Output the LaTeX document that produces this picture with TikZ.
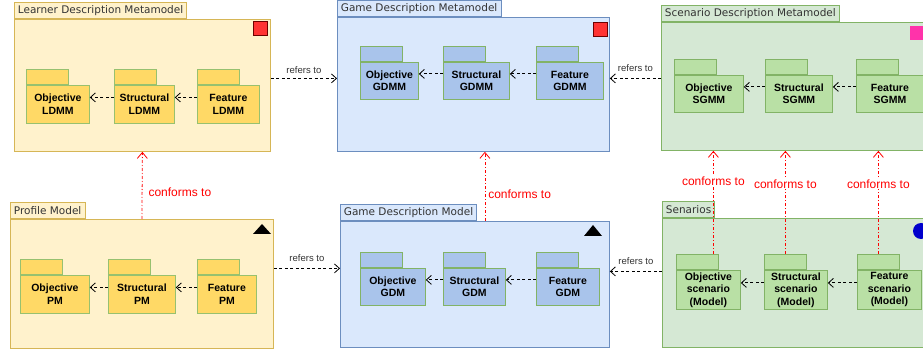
\documentclass[tikz,border=0pt]{standalone}
\usepackage{fontspec}
\setmainfont{Liberation Sans}
\newfontfamily\titlefont{DejaVu Sans}
\usetikzlibrary{arrows.meta}
\definecolor{ylouter}{HTML}{FFF2CC}
\definecolor{ylline}{HTML}{D6B656}
\definecolor{ylinner}{HTML}{FFD966}
\definecolor{blouter}{HTML}{DAE8FC}
\definecolor{blline}{HTML}{6C8EBF}
\definecolor{blinner}{HTML}{A9C4EB}
\definecolor{grouter}{HTML}{D5E8D4}
\definecolor{grline}{HTML}{82B366}
\definecolor{grinner}{HTML}{B9E0A5}
\definecolor{pkline}{HTML}{97C16F}
\definecolor{titlegray}{HTML}{333333}
\definecolor{markred}{HTML}{FF3333}
\definecolor{markdark}{HTML}{6E0000}
\definecolor{markpink}{HTML}{FF33AA}
\definecolor{markblue}{HTML}{0000CC}

\begin{document}
\begin{tikzpicture}[x=1pt, y=-1pt, line width=0.8pt,
  body/.style={draw, anchor=north west, inner sep=0pt},
  title/.style={draw, anchor=south west, minimum height=16pt, inner xsep=3.5pt, inner ysep=0pt,
    font=\titlefont\fontsize{10.5}{12}\selectfont, text=titlegray},
  pkg/.style={draw=pkline, anchor=north west, minimum height=38pt, inner sep=0pt, align=center,
    font=\fontsize{10.5}{12.5}\selectfont\bfseries},
  pkgtab/.style={draw=pkline, anchor=south west, minimum width=42pt, minimum height=15pt, inner sep=0pt},
  dep/.style={dash pattern=on 3pt off 2.5pt, -{Straight Barb[length=5pt,width=9pt]}},
  refs/.style={font=\fontsize{9.5}{11}\selectfont, text=titlegray},
  conf/.style={red, dash pattern=on 3pt off 2pt on 1pt off 2pt, -{Straight Barb[length=6pt,width=10pt]}},
  conflabel/.style={text=red, font=\fontsize{12}{14}\selectfont, fill=white, inner sep=1pt}]
\useasboundingbox (0,0) rectangle (923,352);
\clip (0,0) rectangle (923,352);

% metamodels
\node[body, fill=ylouter, draw=ylline, minimum width=256, minimum height=132] (ldmm) at (14,19) {};
\node[title, fill=ylouter, draw=ylline] (ldmm-tab) at (ldmm.north west) {Learner Description Metamodel};
\node[body, fill=blouter, draw=blline, minimum width=272, minimum height=134] (gdmm) at (337,17) {};
\node[title, fill=blouter, draw=blline] (gdmm-tab) at (gdmm.north west) {Game Description Metamodel};
\node[body, fill=grouter, draw=grline, minimum width=300, minimum height=128] (sgmm) at (661,22) {};
\node[title, fill=grouter, draw=grline] (sgmm-tab) at (sgmm.north west) {Scenario Description Metamodel};

% models
\node[body, fill=ylouter, draw=ylline, minimum width=263, minimum height=129] (pm) at (10,219) {};
\node[title, fill=ylouter, draw=ylline] (pm-tab) at (pm.north west) {Profile Model};
\node[body, fill=blouter, draw=blline, minimum width=269, minimum height=126] (gdm) at (340,221) {};
\node[title, fill=blouter, draw=blline] (gdm-tab) at (gdm.north west) {Game Description Model};
\node[body, fill=grouter, draw=grline, minimum width=300, minimum height=129] (scn) at (662,218) {};
\node[title, fill=grouter, draw=grline] (scn-tab) at (scn.north west) {Senarios};

% markers
\draw[fill=markred, draw=markdark] (253,21) rectangle (267,35);
\draw[fill=markred, draw=markdark] (593,22) rectangle (607,36);
\fill[markpink] (910,26) rectangle (924,40);
\fill (253,234) -- (271,234) -- (262,224) -- cycle;
\fill (584,236) -- (602,236) -- (593,225) -- cycle;
\fill[markblue] (921,231) circle (8pt);

% inner packages
\node[pkg, fill=ylinner, minimum width=63] (olm) at (26,85) {Objective\\LDMM};
\node[pkg, fill=ylinner, minimum width=60] (slm) at (114,85) {Structural\\LDMM};
\node[pkg, fill=ylinner, minimum width=62] (flm) at (197,85) {Feature\\LDMM};
\node[pkg, fill=blinner, draw=grline, minimum width=58, minimum height=37] (ogm) at (360,62) {Objective\\GDMM};
\node[pkg, fill=blinner, draw=grline, minimum width=66, minimum height=37] (sgm) at (443,62) {Structural\\GDMM};
\node[pkg, fill=blinner, draw=grline, minimum width=67, minimum height=37] (fgm) at (536,62) {Feature\\GDMM};
\node[pkg, fill=grinner, draw=grline, minimum width=69, minimum height=37] (osm) at (674,75) {Objective\\SGMM};
\node[pkg, fill=grinner, draw=grline, minimum width=67, minimum height=37] (ssm) at (765,75) {Structural\\SGMM};
\node[pkg, fill=grinner, draw=grline, minimum width=67, minimum height=37] (fsm) at (856,75) {Feature\\SGMM};
\node[pkg, fill=ylinner, minimum width=69] (op) at (20,275) {Objective\\PM};
\node[pkg, fill=ylinner, minimum width=67] (sp) at (108,275) {Structural\\PM};
\node[pkg, fill=ylinner, minimum width=59] (fp) at (197,275) {Feature\\PM};
\node[pkg, fill=blinner, draw=grline, minimum width=65, minimum height=37] (og) at (360,268) {Objective\\GDM};
\node[pkg, fill=blinner, draw=grline, minimum width=62, minimum height=37] (sg) at (443,268) {Structural\\GDM};
\node[pkg, fill=blinner, draw=grline, minimum width=63, minimum height=37] (fg) at (536,268) {Feature\\GDM};
\node[pkg, fill=grinner, draw=grline, minimum width=64, minimum height=39] (osc) at (676,270) {Objective\\scenario\\(Model)};
\node[pkg, fill=grinner, draw=grline, minimum width=63, minimum height=39] (ssc) at (764,270) {Structural\\scenario\\(Model)};
\node[pkg, fill=grinner, draw=grline, minimum width=64, minimum height=39] (fsc) at (857,270) {Feature\\scenario\\(Model)};

\foreach \p in {olm,slm,flm,op,sp,fp}
  \node[pkgtab, fill=ylinner] (\p-tab) at (\p.north west) {};
\foreach \p in {ogm,sgm,fgm,og,sg,fg}
  \node[pkgtab, fill=blinner, draw=grline] (\p-tab) at (\p.north west) {};
\foreach \p in {osm,ssm,fsm,osc,ssc,fsc}
  \node[pkgtab, fill=grinner, draw=grline] (\p-tab) at (\p.north west) {};

% dependencies inside the packages
\foreach \a/\b in {slm/olm,flm/slm,sgm/ogm,fgm/sgm,ssm/osm,fsm/ssm,
                   sp/op,fp/sp,sg/og,fg/sg,ssc/osc,fsc/ssc}
  \draw[dep] ([yshift=7pt]\a.west) -- ([yshift=7pt]\b.east);

% refers to
\draw[dep] ([yshift=7pt]ldmm.east) -- ([yshift=7pt]ldmm.east -| gdmm.west)
  node[midway, above=1pt, refs] {refers to};
\draw[dep] ([yshift=8pt]sgmm.west) -- ([yshift=8pt]sgmm.west -| gdmm.east)
  node[midway, above=3pt, refs] {refers to};
\draw[dep] ([yshift=15.5pt]pm.east) -- ([yshift=15.5pt]pm.east -| gdm.west)
  node[midway, above=3pt, refs] {refers to};
\draw[dep] ([yshift=11.5pt]scn.west) -- ([yshift=11.5pt]scn.west -| gdm.east)
  node[midway, above=3pt, refs] {refers to};

% conforms to
\draw[conf] (pm.north) -- (ldmm.south)
  node[pos=0.4, right=5pt, conflabel, fill=none] {conforms to};
\draw[conf] ([xshift=10pt]gdm.north) -- ([xshift=10pt]gdm.north |- gdmm.south)
  node[pos=0.39, right=2pt, conflabel, fill=none] {conforms to};
\draw[conf] ([xshift=16pt]osc-tab.north) -- ([xshift=16pt]osc-tab.north |- sgmm.south)
  node[pos=0.71, conflabel] {conforms to};
\draw[conf] (ssc-tab.north) -- (ssc-tab.north |- sgmm.south)
  node[pos=0.68, conflabel] {conforms to};
\draw[conf] (fsc-tab.north) -- (fsc-tab.north |- sgmm.south)
  node[pos=0.68, conflabel] {conforms to};
\end{tikzpicture}
\end{document}
